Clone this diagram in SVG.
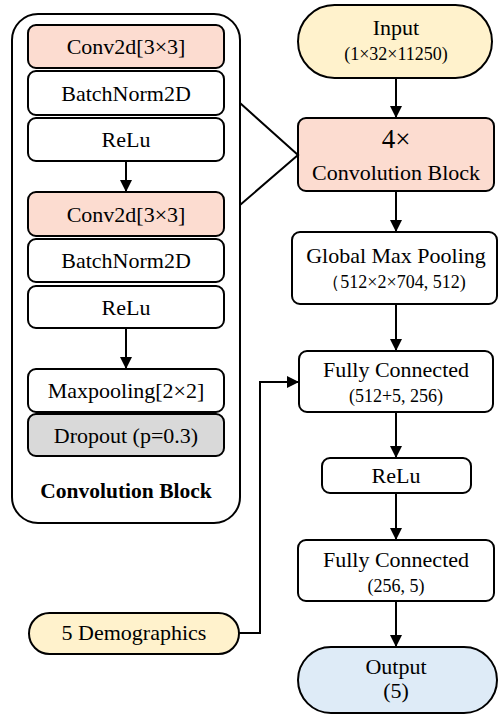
<svg xmlns="http://www.w3.org/2000/svg" width="499" height="715" viewBox="0 0 499 715">
<defs>
<marker id="ah" viewBox="0 0 12 12" refX="12" refY="6" markerWidth="12" markerHeight="12" markerUnits="userSpaceOnUse" orient="auto">
<path d="M0,0 L12,6 L0,12 Z" fill="#000"/>
</marker>
<style>
.b{stroke:#000;stroke-width:2;}
.w{fill:#fff;}
.s{fill:#FCDCD0;}
.y{fill:#FFF2CC;}
.g{fill:#D9D9D9;}
.u{fill:#DEEBF7;}
text{font-family:"Liberation Serif","Times New Roman",serif;fill:#000;text-anchor:middle;}
.t{font-size:22px;}
.sm{font-size:18px;}
.bd{font-size:21.5px;font-weight:bold;}
.big{font-size:27px;}
.c{fill:none;stroke:#000;stroke-width:2;}
</style>
</defs>
<rect width="499" height="715" fill="#fff"/>

<g id="conv-block-container">
<rect class="b w" x="12" y="14" width="228" height="509" rx="26"/>
<text class="bd" x="126" y="498">Convolution Block</text>
</g>
<g id="cb-conv1"><rect class="b s" x="28" y="25" width="196" height="43" rx="8"/><text class="t" x="126" y="54">Conv2d[3×3]</text></g>
<g id="cb-bn1"><rect class="b w" x="28" y="71" width="196" height="44" rx="8"/><text class="t" x="126" y="100.5">BatchNorm2D</text></g>
<g id="cb-relu1"><rect class="b w" x="28" y="118" width="196" height="43" rx="8"/><text class="t" x="126" y="147">ReLu</text></g>
<g id="cb-conv2"><rect class="b s" x="28" y="192" width="196" height="44" rx="8"/><text class="t" x="126" y="221.5">Conv2d[3×3]</text></g>
<g id="cb-bn2"><rect class="b w" x="28" y="239" width="196" height="43" rx="8"/><text class="t" x="126" y="268">BatchNorm2D</text></g>
<g id="cb-relu2"><rect class="b w" x="28" y="286" width="196" height="42" rx="8"/><text class="t" x="126" y="314.5">ReLu</text></g>
<g id="cb-maxpool"><rect class="b w" x="28" y="369" width="196" height="43" rx="8"/><text class="t" x="126" y="398">Maxpooling[2×2]</text></g>
<g id="cb-dropout"><rect class="b g" x="28" y="414" width="196" height="42" rx="8"/><text class="t" x="126" y="442.5">Dropout (p=0.3)</text></g>

<g id="input"><rect class="b y" x="298" y="5" width="194" height="73" rx="36.5"/><text class="t" x="396" y="35">Input</text><text class="sm" x="396" y="60">(1×32×11250)</text></g>
<g id="conv4"><rect class="b s" x="298" y="118" width="196" height="73" rx="8"/><text class="big" x="396" y="148">4×</text><text class="t" x="396" y="180">Convolution Block</text></g>
<g id="gmp"><rect class="b w" x="292" y="232" width="205" height="72" rx="8"/><text class="t" x="396" y="262.5">Global Max Pooling</text><text class="sm" x="394" y="288">（512×2×704, 512)</text></g>
<g id="fc1"><rect class="b w" x="299" y="351" width="194" height="61" rx="8"/><text class="t" x="396" y="377">Fully Connected</text><text class="sm" x="396" y="402">(512+5, 256)</text></g>
<g id="relu"><rect class="b w" x="322" y="458" width="149" height="35" rx="8"/><text class="t" x="396" y="483">ReLu</text></g>
<g id="fc2"><rect class="b w" x="298" y="540" width="196" height="61" rx="8"/><text class="t" x="396" y="567">Fully Connected</text><text class="sm" x="396" y="592">(256, 5)</text></g>
<g id="output"><rect class="b u" x="298" y="647" width="199" height="66" rx="33"/><text class="t" x="396" y="674">Output</text><text class="t" x="396" y="698">(5)</text></g>
<g id="demographics"><rect class="b y" x="29" y="613" width="210" height="41" rx="20.5"/><text class="t" x="134" y="640">5 Demographics</text></g>

<g id="connectors">
<line class="c" x1="126" y1="161" x2="126" y2="192" marker-end="url(#ah)"/>
<line class="c" x1="126" y1="328" x2="126" y2="369" marker-end="url(#ah)"/>
<polyline class="c" points="240,103 298,155 240,205"/>
<line class="c" x1="396" y1="78" x2="396" y2="118" marker-end="url(#ah)"/>
<line class="c" x1="396" y1="191" x2="396" y2="232" marker-end="url(#ah)"/>
<line class="c" x1="396" y1="304" x2="396" y2="351" marker-end="url(#ah)"/>
<line class="c" x1="396" y1="412" x2="396" y2="458" marker-end="url(#ah)"/>
<line class="c" x1="396" y1="493" x2="396" y2="540" marker-end="url(#ah)"/>
<line class="c" x1="396" y1="601" x2="396" y2="647" marker-end="url(#ah)"/>
<polyline class="c" points="239,633 260,633 260,382 299,382" marker-end="url(#ah)"/>
</g>
</svg>
